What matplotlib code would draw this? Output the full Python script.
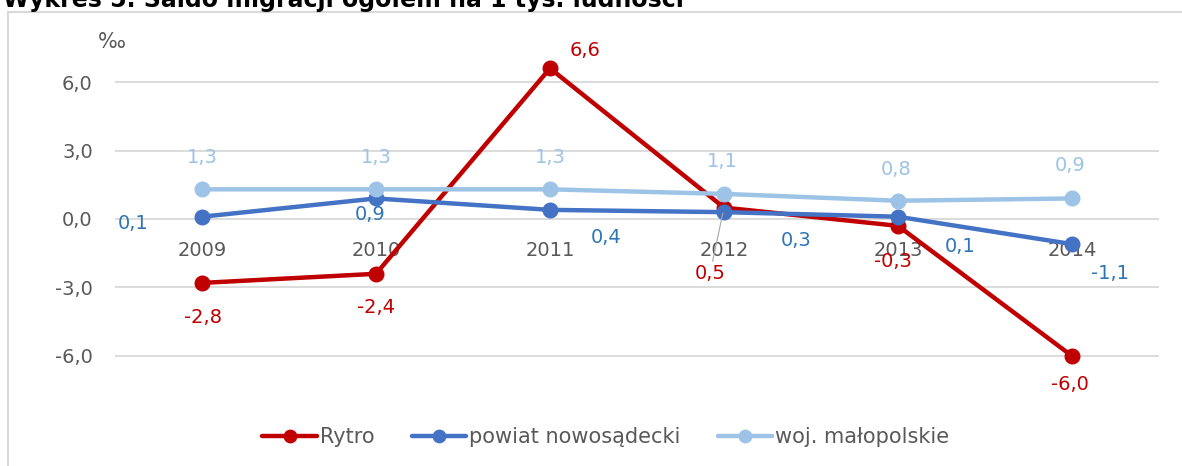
import matplotlib.pyplot as plt
from matplotlib.patches import Rectangle

years = ["2009", "2010", "2011", "2012", "2013", "2014"]
rytro = [-2.8, -2.4, 6.6, 0.5, -0.3, -6.0]
powiat = [0.1, 0.9, 0.4, 0.3, 0.1, -1.1]
wojewodztwo = [1.3, 1.3, 1.3, 1.1, 0.8, 0.9]
series_names = ["Rytro", "powiat nowosądecki", "woj. małopolskie"]
yticks = [-6.0, -3.0, 0.0, 3.0, 6.0]
title = "Wykres 5. Saldo migracji ogółem na 1 tys. ludności"

# label offsets in pixels (dx, dy), as placed in the original chart
rytro_off = [(1, -35), (0, -34), (35, 18), (-14, -66), (-5, -36), (-2, -29)]
powiat_off = [(-69, -7), (-6, -16), (56, -28), (72, -28), (62, -30), (38, -29)]
woj_off = [(0, 32), (0, 32), (0, 32), (-2, 32), (-2, 31), (-2, 33)]

colors = ["#C00000", "#4472C4", "#9DC3E6"]
label_colors = ["#C00000", "#2E75B6", "#9DC3E6"]
gray = "#595959"

W, H = 1182, 466
fig = plt.figure(figsize=(W / 100, H / 100), dpi=100)
plt.rcParams["font.family"] = "DejaVu Sans"

# chart border (open at right and bottom, as cropped)
fig.patches.append(Rectangle((8 / W, -0.1), 1.2, 1.1 - 12.5 / H, transform=fig.transFigure,
                             fill=False, edgecolor="#D9D9D9", lw=1.5))
fig.text(3 / W, 1 - 7 / H, title, fontsize=17, fontweight="bold", va="baseline", ha="left")

ymin, ymax = -8, 8
ppu = 22.83
zero_px = 219
top_px = zero_px - ymax * ppu
bot_px = zero_px - ymin * ppu
ax = fig.add_axes([115 / W, 1 - bot_px / H, (1159 - 115) / W, (bot_px - top_px) / H])
ax.set_xlim(-0.5, 5.5)
ax.set_ylim(ymin, ymax)
for s in ax.spines.values():
    s.set_visible(False)
ax.set_yticks(yticks)
ax.set_yticklabels([f"{v:.1f}".replace(".", ",") for v in yticks])
ax.tick_params(axis="y", length=0, pad=16, labelsize=14, labelcolor=gray)
ax.set_xticks([])
ax.grid(axis="y", color="#D9D9D9", lw=1.3)
ax.set_axisbelow(True)

x = range(len(years))
for t, lab in zip(x, years):
    ax.annotate(lab, (t, 0), xytext=(0, -31 * 0.72), textcoords="offset points",
                ha="center", va="center", fontsize=14, color=gray, zorder=2)

all_data = [rytro, powiat, wojewodztwo]
all_off = [rytro_off, powiat_off, woj_off]
for i, (vals, name) in enumerate(zip(all_data, series_names)):
    ax.plot(x, vals, color=colors[i], lw=3.2, marker="o", ms=10.5, label=name,
            clip_on=False, zorder=3 + i, solid_capstyle="round")

for i, vals in enumerate(all_data):
    for t, (v, off) in enumerate(zip(vals, all_off[i])):
        txt = f"{v:.1f}".replace(".", ",")
        kw = {}
        if i == 0 and t == 3:
            kw["arrowprops"] = dict(arrowstyle="-", color="#A6A6A6", lw=0.8,
                                    shrinkA=0, shrinkB=4)
        ax.annotate(txt, (t, v), xytext=(off[0] * 0.72, off[1] * 0.72),
                    textcoords="offset points", ha="center", va="center",
                    fontsize=14, color=label_colors[i], zorder=10, **kw)

fig.text(112 / W, 1 - 42 / H, "‰", fontsize=15, color=gray, ha="center", va="center")

fig.legend(loc="center", bbox_to_anchor=(606 / W, 1 - 437 / H), ncol=3, frameon=False,
           fontsize=15, handlelength=2.6, handletextpad=0.15, columnspacing=1.8,
           labelcolor=gray, markerscale=0.85)

fig.savefig("out.png", dpi=100)
